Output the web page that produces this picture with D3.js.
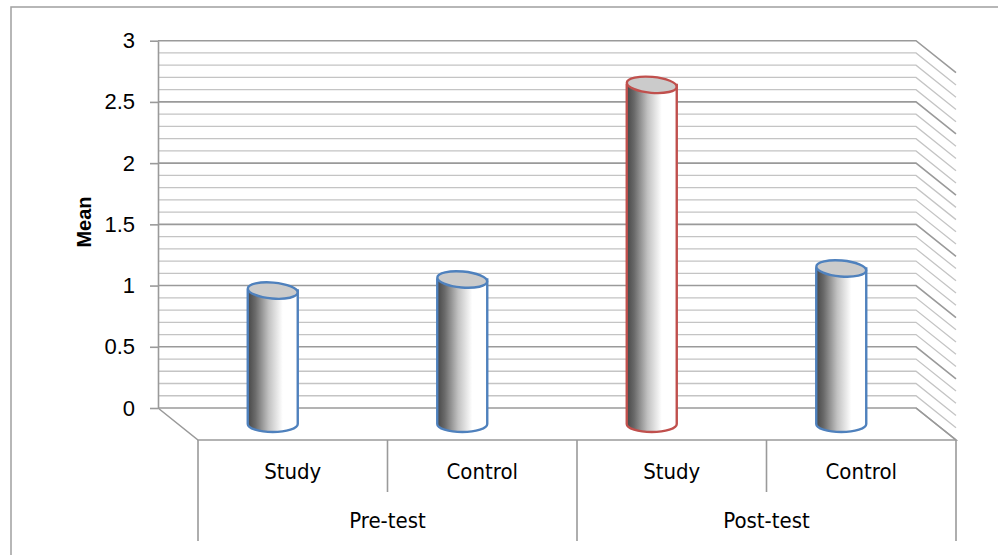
<!DOCTYPE html>
<html>
<head>
<meta charset="utf-8">
<script src="https://cdn.jsdelivr.net/npm/d3@7/dist/d3.min.js"></script>
<style>
  html, body { margin: 0; padding: 0; background: #fff; }
  svg { display: block; }
  text { font-family: "Liberation Sans Narrow", "DejaVu Sans Condensed", "Liberation Sans", sans-serif; fill: #000; }
</style>
</head>
<body>
<svg id="chart" width="998" height="555"></svg>
<script>
// Test phases and groups shown along the category axis
const phases = ["Pre-test", "Post-test"];
const groups = ["Study", "Control"];
// Mean score of each bar, in phase/group order
const means = [1.09, 1.18, 2.77, 1.27];
// Bar outline colour per bar
const barColors = ["#4f81bd", "#4f81bd", "#c0504d", "#4f81bd"];
// Value axis labels
const yTicks = [0, 0.5, 1, 1.5, 2, 2.5, 3];

const bars = [];
phases.forEach((p, i) => groups.forEach((g, j) => {
  const k = i * groups.length + j;
  bars.push({ phase: p, group: g, key: p + "|" + g, value: means[k], color: barColors[k] });
}));

const svg = d3.select("#chart");

// Outer chart frame
svg.append("rect")
  .attr("x", 11).attr("y", 7).attr("width", 1000).attr("height", 560)
  .attr("fill", "none").attr("stroke", "#a0a0a0").attr("stroke-width", 1.5);

// Plot geometry: back wall, and depth offset of the 3-D box
const wallLeft = 158, wallRight = 916;
const depthX = 40, depthY = 32;
const frontLeft = wallLeft + depthX, frontRight = wallRight + depthX;

const y = d3.scaleLinear().domain([0, 3]).range([408, 40.7]);
const x = d3.scaleBand().domain(bars.map(d => d.key)).range([frontLeft, frontRight]).padding(0);
const xPhase = d3.scaleBand().domain(phases).range([frontLeft, frontRight]).padding(0);

// Gridlines on the back wall and right side wall (minor every 0.1, major every 0.5)
const gridVals = d3.range(0, 31).map(i => i / 10);
const grid = svg.append("g");
gridVals.forEach(v => {
  const major = Math.abs(v * 2 - Math.round(v * 2)) < 1e-6;
  const yy = y(v);
  grid.append("path")
    .attr("d", `M${wallLeft},${yy}H${wallRight}L${wallRight + depthX},${yy + depthY}`)
    .attr("fill", "none")
    .attr("stroke", major ? "#9a9a9a" : "#c4c4c4")
    .attr("stroke-width", major ? 1.6 : 1.3);
});

// Floor edges
svg.append("path")
  .attr("d", `M${wallLeft},${y(0)}L${frontLeft},${y(0) + depthY}H${frontRight}L${wallRight},${y(0)}`)
  .attr("fill", "none").attr("stroke", "#9a9a9a").attr("stroke-width", 1.6);

// Value axis
const yAxis = d3.axisLeft(y).tickValues(yTicks).tickSize(8).tickSizeOuter(0).tickPadding(15)
  .tickFormat(d3.format("~g"));
const ya = svg.append("g").attr("transform", `translate(${wallLeft},0)`).call(yAxis);
ya.select(".domain").attr("stroke", "#9a9a9a").attr("stroke-width", 1.6);
ya.selectAll(".tick line").attr("stroke", "#9a9a9a").attr("stroke-width", 1.6);
ya.selectAll(".tick text").attr("font-size", 22).attr("fill", "#000")
  .style("font-family", '"Liberation Sans Narrow", "Liberation Sans", sans-serif');

svg.append("text")
  .attr("transform", `translate(84,222) rotate(-90)`)
  .attr("text-anchor", "middle").attr("dominant-baseline", "central")
  .attr("font-size", 20).attr("font-weight", "bold")
  .style("font-family", '"Liberation Sans", sans-serif')
  .text("Mean");

// Cylinder shading
const defs = svg.append("defs");
const grad = defs.append("linearGradient").attr("id", "cyl").attr("x1", 0).attr("x2", 1).attr("y1", 0).attr("y2", 0);
[[0, "#474747"], [0.15, "#6a6a6a"], [0.42, "#c2c2c2"], [0.7, "#fff"], [1, "#fff"]]
  .forEach(([o, c]) => grad.append("stop").attr("offset", o).attr("stop-color", c));

// Cylinders sit at mid depth of the box
const rx = 25, ry = 8;
const midX = depthX / 2, midY = depthY / 2;
const cyl = svg.append("g").selectAll("g").data(bars).join("g");
cyl.each(function (d) {
  const g = d3.select(this);
  const cx = x(d.key) + x.bandwidth() / 2 - midX;
  const top = y(d.value) + midY;
  const bot = y(0) + midY;
  g.append("path")
    .attr("d", `M${cx - rx},${top}V${bot}A${rx},${ry} 0 0 0 ${cx + rx},${bot}V${top}Z`)
    .attr("fill", "url(#cyl)").attr("stroke", d.color).attr("stroke-width", 2.4);
  g.append("ellipse")
    .attr("cx", cx).attr("cy", top).attr("rx", rx).attr("ry", ry)
    .attr("transform", `rotate(5,${cx},${top})`)
    .attr("fill", "#cbcbcb").attr("stroke", d.color).attr("stroke-width", 2.4);
});

// Two-level category axis
const axisTop = y(0) + depthY;
const axisG = svg.append("g").attr("stroke", "#9a9a9a").attr("stroke-width", 1.6);
const groupBottom = axisTop + 52, phaseBottom = axisTop + 101;
x.domain().forEach((k, i) => {
  const isPhaseEdge = i % groups.length === 0;
  axisG.append("line").attr("x1", x(k)).attr("x2", x(k))
    .attr("y1", axisTop).attr("y2", isPhaseEdge ? phaseBottom : groupBottom);
});
axisG.append("line").attr("x1", frontRight).attr("x2", frontRight).attr("y1", axisTop).attr("y2", phaseBottom);

svg.append("g").selectAll("text").data(bars).join("text")
  .attr("x", d => x(d.key) + x.bandwidth() / 2)
  .attr("y", axisTop + 31)
  .attr("text-anchor", "middle").attr("dominant-baseline", "central")
  .attr("font-size", 22)
  .text(d => d.group);

svg.append("g").selectAll("text").data(phases).join("text")
  .attr("x", d => xPhase(d) + xPhase.bandwidth() / 2)
  .attr("y", axisTop + 80)
  .attr("text-anchor", "middle").attr("dominant-baseline", "central")
  .attr("font-size", 22)
  .text(d => d);
</script>
</body>
</html>
